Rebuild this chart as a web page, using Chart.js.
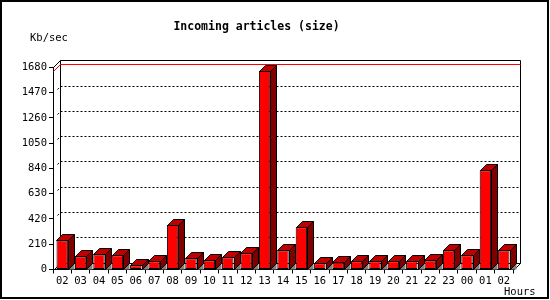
<!DOCTYPE html>
<html>
<head>
<meta charset="utf-8">
<script src="https://cdn.jsdelivr.net/npm/chart.js@4.4.1/dist/chart.umd.min.js"></script>
<style>
  html, body { margin: 0; padding: 0; background: #fff; }
  #wrap { width: 550px; height: 300px; }
</style>
</head>
<body>
<div id="wrap"><canvas id="incomingChart" width="550" height="300"></canvas></div>
<script>
const hours = ["02", "03", "04", "05", "06", "07", "08", "09", "10", "11", "12", "13",
    "14", "15", "16", "17", "18", "19", "20", "21", "22", "23", "00", "01", "02"];
const kbPerSec = [243, 110, 126, 118, 35, 68, 370, 93, 76, 101, 135, 1652,
    160, 351, 52, 60, 68, 68, 68, 68, 76, 160, 118, 825, 160];
const yTicks = [0, 210, 420, 630, 840, 1050, 1260, 1470, 1680];

const MONO = "'DejaVu Sans Mono', monospace";
const WALL = 7;   // back wall offset
const DEPTH = 6;  // bar depth

// draws the 3d box: back wall, grid, max line, bar tops and sides
const box3d = {
    id: "box3d",
    beforeDatasetsDraw(chart) {
        const ctx = chart.ctx;
        const area = chart.chartArea;
        const y = chart.scales.y;
        const L = Math.round(area.left) + 0.5;
        const R = Math.round(area.right) + 0.5;
        const B = Math.round(area.bottom) + 0.5;
        const T = Math.round(y.getPixelForValue(yTicks[yTicks.length - 1])) + 0.5;

        ctx.save();
        ctx.lineWidth = 1;

        // dotted grid on back wall
        ctx.strokeStyle = "#000";
        ctx.setLineDash([2, 2]);
        yTicks.slice(1, -1).forEach(v => {
            const py = Math.round(y.getPixelForValue(v)) + 0.5;
            ctx.beginPath();
            ctx.moveTo(L + WALL, py - WALL);
            ctx.lineTo(R + WALL, py - WALL);
            ctx.stroke();
            ctx.beginPath();
            ctx.moveTo(L + 4, py - 4);
            ctx.lineTo(L + WALL, py - WALL);
            ctx.stroke();
        });
        ctx.setLineDash([]);

        // back wall frame
        ctx.beginPath();
        ctx.moveTo(L, T);
        ctx.lineTo(L + WALL, T - WALL);
        ctx.lineTo(R + WALL, T - WALL);
        ctx.lineTo(R + WALL, B - WALL);
        ctx.lineTo(R, B);
        ctx.moveTo(L + WALL, T - WALL);
        ctx.lineTo(L + WALL, B - WALL);
        ctx.lineTo(R + WALL, B - WALL);
        ctx.moveTo(L, B);
        ctx.lineTo(L + WALL, B - WALL);
        ctx.stroke();

        // max value line
        const maxV = Math.max(...kbPerSec);
        const my = Math.round(y.getPixelForValue(maxV)) + 0.5;
        ctx.strokeStyle = "#ff0000";
        ctx.beginPath();
        ctx.moveTo(L, my);
        ctx.lineTo(L + WALL, my - WALL);
        ctx.lineTo(R + WALL, my - WALL);
        ctx.stroke();

        ctx.restore();
    },
    afterDatasetsDraw(chart) {
        const ctx = chart.ctx;
        const meta = chart.getDatasetMeta(0);
        ctx.save();
        ctx.lineWidth = 1;
        ctx.strokeStyle = "#000";
        meta.data.forEach(bar => {
            const x0 = Math.round(bar.x - bar.width / 2) + 0.5;
            const x1 = Math.round(bar.x + bar.width / 2) + 0.5;
            const top = Math.round(bar.y) + 0.5;
            const base = Math.round(bar.base) + 0.5;

            // floor shadow
            ctx.fillStyle = "#808080";
            ctx.beginPath();
            ctx.moveTo(x1, base);
            ctx.lineTo(x1 + DEPTH, base);
            ctx.lineTo(x1 + DEPTH, base - DEPTH);
            ctx.closePath();
            ctx.fill();

            // side
            ctx.fillStyle = "#800000";
            ctx.beginPath();
            ctx.moveTo(x1, top);
            ctx.lineTo(x1 + DEPTH, top - DEPTH);
            ctx.lineTo(x1 + DEPTH, base - DEPTH);
            ctx.lineTo(x1, base);
            ctx.closePath();
            ctx.fill();
            ctx.stroke();

            // top
            ctx.fillStyle = "#c00000";
            ctx.beginPath();
            ctx.moveTo(x0, top);
            ctx.lineTo(x0 + DEPTH, top - DEPTH);
            ctx.lineTo(x1 + DEPTH, top - DEPTH);
            ctx.lineTo(x1, top);
            ctx.closePath();
            ctx.fill();
            ctx.stroke();
        });
        ctx.restore();
    },
    afterDraw(chart) {
        const ctx = chart.ctx;
        ctx.save();
        ctx.fillStyle = "#000";
        ctx.font = "10.5px " + MONO;
        ctx.textBaseline = "middle";
        ctx.textAlign = "left";
        ctx.fillText("Kb/sec", 30, 38);
        ctx.fillText("Hours", 504, 292);
        // outer frame
        ctx.strokeStyle = "#000";
        ctx.lineWidth = 2;
        ctx.strokeRect(1, 1, 547, 297);
        ctx.restore();
    }
};

new Chart(document.getElementById("incomingChart"), {
    type: "bar",
    data: {
        labels: hours,
        datasets: [{
            label: "Kb/sec",
            data: kbPerSec,
            backgroundColor: "#ff0000",
            borderColor: "#000000",
            borderWidth: 1,
            borderSkipped: false,
            categoryPercentage: 1,
            barPercentage: 0.62
        }]
    },
    options: {
        responsive: false,
        animation: false,
        layout: { padding: { left: 0, right: 37, top: 0, bottom: 0 } },
        plugins: {
            legend: { display: false },
            tooltip: { enabled: false },
            title: {
                display: true,
                text: "Incoming articles (size)",
                color: "#000",
                font: { family: MONO, size: 11.5, weight: "bold" },
                padding: { top: 20, bottom: 33.6 }
            }
        },
        scales: {
            x: {
                afterFit: s => { s.height = 30.5; },
                grid: { display: true, drawOnChartArea: false, drawTicks: true, tickLength: 4, color: "#000", offset: true },
                border: { display: true, color: "#000", width: 1 },
                ticks: {
                    color: "#000",
                    font: { family: MONO, size: 10.5 },
                    padding: 1,
                    autoSkip: false,
                    maxRotation: 0
                }
            },
            y: {
                min: 0,
                max: 1680,
                afterFit: s => { s.width = 53; },
                afterBuildTicks: s => { s.ticks = yTicks.map(v => ({ value: v })); },
                grid: { display: true, drawOnChartArea: false, drawTicks: true, tickLength: 4, color: "#000" },
                border: { display: true, color: "#000", width: 1 },
                ticks: {
                    color: "#000",
                    font: { family: MONO, size: 10.5 },
                    padding: 2,
                    callback: v => String(v)
                }
            }
        }
    },
    plugins: [box3d]
});
</script>
</body>
</html>
